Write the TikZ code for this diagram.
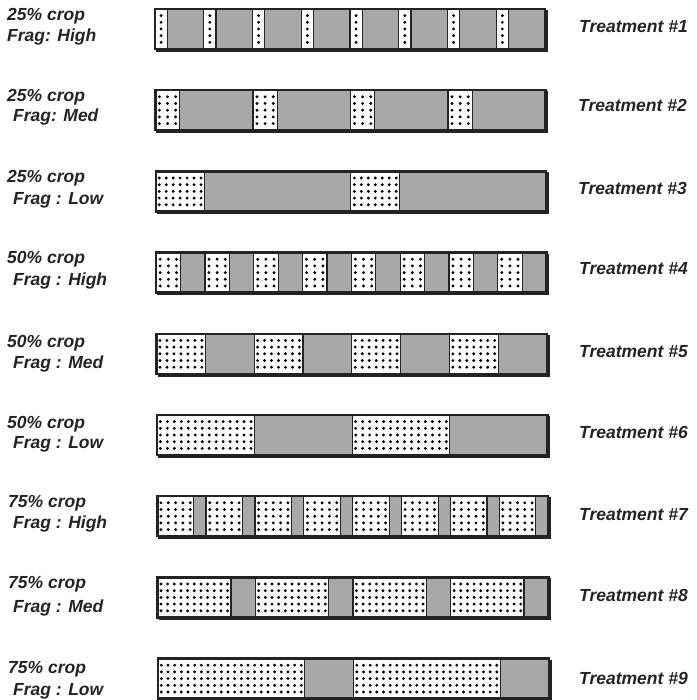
\documentclass[tikz,border=0pt]{standalone}
\usepackage{fontspec}
\setmainfont{Liberation Sans}
\definecolor{segGray}{RGB}{168,168,168}
\definecolor{ink}{RGB}{35,35,35}
\tikzset{
  lbl/.style={anchor=base west, inner sep=0pt, text=ink,
    font=\fontsize{17.5}{20}\selectfont\bfseries\itshape},
  barFrame/.style={draw=ink, line width=2.5pt},
  segLine/.style={draw=ink, line width=1.2pt},
  shadowLine/.style={draw=ink, line width=2pt},
  dotMark/.style={fill=black}
}
\newcommand\drawBar[3]{%
  \pgfmathsetmacro\bYt{9+81.2*(#1-1)}%
  \pgfmathsetmacro\bYb{\bYt+40}%
  \pgfmathsetmacro\bYc{\bYt+20}%
  \pgfmathsetmacro\bXa{155+3*(#1-1)/8}%
  \pgfmathsetmacro\bXb{545+4*(#1-1)/8}%
  \pgfmathsetmacro\bPer{(\bXb-\bXa)/#3}%
  \pgfmathtruncatemacro\bNp{#3-1}%
  \foreach \k in {0,...,\bNp}{%
    \pgfmathsetmacro\bSa{\bXa+\k*\bPer}%
    \pgfmathsetmacro\bSm{\bSa+#2*\bPer}%
    \pgfmathsetmacro\bSe{\bSa+\bPer}%
    \fill[white] (\bSa,\bYt) rectangle (\bSm,\bYb);
    \fill[segGray] (\bSm,\bYt) rectangle (\bSe,\bYb);
    \pgfmathsetmacro\bW{\bSm-\bSa}%
    \pgfmathtruncatemacro\bNc{max(1,floor(\bW/6.6))}%
    \pgfmathsetmacro\bDx{\bW/\bNc}%
    \foreach \i in {1,...,\bNc}{%
      \foreach \j in {0,...,4}{%
        \fill[dotMark] (\bSa+\bDx*\i-\bDx/2, \bYc+6.7*\j-13.4) circle (1.6pt);
      }%
    }%
    \draw[segLine] (\bSa,\bYt) -- (\bSa,\bYb) (\bSm,\bYt) -- (\bSm,\bYb);
  }%
  \draw[barFrame] (\bXa,\bYt) rectangle (\bXb,\bYb);
  \draw[shadowLine] (\bXa+1,\bYb+1.8) -- (\bXb+1.8,\bYb+1.8) -- (\bXb+1.8,\bYt+1);
}
\begin{document}
\begin{tikzpicture}[x=1pt,y=-1pt]
\useasboundingbox (0,0) rectangle (696,700);
\fill[white] (0,0) rectangle (696,700);

\drawBar{1}{0.25}{8}
\drawBar{2}{0.25}{4}
\drawBar{3}{0.25}{2}
\drawBar{4}{0.5}{8}
\drawBar{5}{0.5}{4}
\drawBar{6}{0.5}{2}
\drawBar{7}{0.75}{8}
\drawBar{8}{0.75}{4}
\drawBar{9}{0.75}{2}

\node[lbl] (c1) at (7,21) {25\% crop};
\node[lbl] (f1) at (7,42) {Frag: High};
\node[lbl] (t1) at (579,33) {Treatment \#1};

\node[lbl] (c2) at (7,102) {25\% crop};
\node[lbl] (f2) at (13,122) {Frag: Med};
\node[lbl] (t2) at (578,112) {Treatment \#2};

\node[lbl] (c3) at (7,183) {25\% crop};
\node[lbl] (f3) at (13,205) {Frag : Low};
\node[lbl] (t3) at (578,195) {Treatment \#3};

\node[lbl] (c4) at (7,263) {50\% crop};
\node[lbl] (f4) at (13,285) {Frag : High};
\node[lbl] (t4) at (579,274) {Treatment \#4};

\node[lbl] (c5) at (7,347) {50\% crop};
\node[lbl] (f5) at (13,368) {Frag : Med};
\node[lbl] (t5) at (579,357) {Treatment \#5};

\node[lbl] (c6) at (7,428) {50\% crop};
\node[lbl] (f6) at (13,448) {Frag : Low};
\node[lbl] (t6) at (579,438) {Treatment \#6};

\node[lbl] (c7) at (8,507) {75\% crop};
\node[lbl] (f7) at (13,528) {Frag : High};
\node[lbl] (t7) at (579,520) {Treatment \#7};

\node[lbl] (c8) at (8,588) {75\% crop};
\node[lbl] (f8) at (13,612) {Frag : Med};
\node[lbl] (t8) at (579,601) {Treatment \#8};

\node[lbl] (c9) at (8,673) {75\% crop};
\node[lbl] (f9) at (13,695) {Frag : Low};
\node[lbl] (t9) at (579,684) {Treatment \#9};
\end{tikzpicture}
\end{document}
